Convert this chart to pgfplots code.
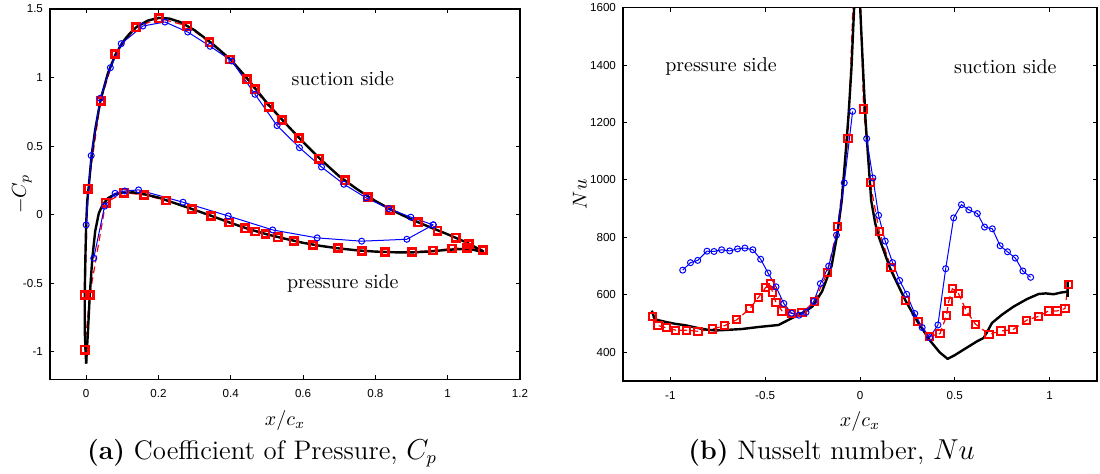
\documentclass[border=0pt]{standalone}
\usepackage{fontspec}
\usepackage{pgfplots}
\pgfplotsset{compat=1.18}
\newfontfamily\ticksf{Liberation Sans}

\pgfplotsset{mystyle/.style={
  scale only axis,
  axis line style={line width=0.7pt},
  tick align=inside, xtick pos=both, ytick pos=both,
  major tick length=2.2pt,
  every tick/.style={black, line width=0.5pt},
  ticklabel style={font=\ticksf\fontsize{5.8}{7}\selectfont},
  xticklabel style={yshift=-1.6pt},
  /pgf/number format/assume math mode=true,
  /pgf/number format/fixed,
  /pgf/number format/1000 sep={},
  every axis x label/.style={at={(axis description cs:0.5,0)}, anchor=center, yshift=-20.5pt, font=\fontsize{10}{12}\selectfont},
  every axis y label/.style={at={(axis description cs:0,0.5)}, anchor=center, rotate=90, font=\fontsize{10}{12}\selectfont},
  redser/.style={red, line width=0.6pt, dash pattern=on 3.5pt off 2pt, mark=square, mark size=1.8pt, mark options={solid, line width=1pt}},
  redfill/.style={redser, mark options={solid, line width=1.3pt}},
  blueser/.style={blue, line width=0.5pt, mark=o, mark size=1.5pt, mark options={solid, line width=0.5pt}},
  blackser/.style={black, line width=1.2pt, no marks, line join=round},
}}

\begin{document}
\begin{tikzpicture}
\useasboundingbox (0,0) rectangle (550pt,237pt);

% ---------------- (a) Cp ----------------
\begin{axis}[mystyle,
  at={(25pt,47.35pt)}, anchor=south west,
  width=235pt, height=185.15pt,
  xmin=-0.1, xmax=1.2, ymin=-1.2, ymax=1.5,
  xtick={0,0.2,...,1.2}, ytick={-1,-0.5,0,0.5,1,1.5},
  xlabel={$x/c_x$}, ylabel={$-C_p$},
  ylabel style={xshift=0pt, yshift=14pt},
]
% red suction
\addplot[redfill] coordinates {
(-0.004,-0.985) (-0.004,-0.585) (0.005,0.19) (0.040,0.829) (0.080,1.172) (0.138,1.366)
(0.202,1.432) (0.280,1.376) (0.341,1.257) (0.397,1.131) (0.445,0.987) (0.466,0.914)
(0.505,0.788) (0.542,0.691) (0.589,0.557) (0.644,0.409) (0.716,0.251) (0.779,0.130)
(0.841,0.035) (0.918,-0.055) (0.972,-0.116) (1.022,-0.167) (1.059,-0.213) (1.097,-0.257)};
% red pressure
\addplot[redfill] coordinates {
(-0.004,-0.985) (0.010,-0.585) (0.054,0.088) (0.104,0.161) (0.161,0.144) (0.221,0.103)
(0.292,0.042) (0.346,-0.009) (0.395,-0.057) (0.439,-0.099) (0.468,-0.123) (0.496,-0.142)
(0.530,-0.164) (0.574,-0.191) (0.628,-0.220) (0.697,-0.244) (0.763,-0.264) (0.827,-0.271)
(0.902,-0.271) (0.959,-0.261) (1.012,-0.247) (1.053,-0.242) (1.097,-0.257)};
% black suction
\addplot[blackser] coordinates {
(0.0,-1.085) (-0.004,-0.84) (-0.004,-0.585) (-0.002,-0.3) (0.0,-0.07) (0.003,0.1)
(0.007,0.2) (0.015,0.43) (0.025,0.62) (0.04,0.84) (0.06,1.03) (0.08,1.16) (0.1,1.255)
(0.12,1.32) (0.14,1.37) (0.17,1.415) (0.2,1.435) (0.23,1.43) (0.26,1.405) (0.3,1.345)
(0.35,1.245) (0.4,1.13) (0.45,0.98) (0.5,0.815) (0.55,0.67) (0.6,0.53) (0.65,0.4)
(0.7,0.28) (0.75,0.185) (0.8,0.1) (0.85,0.028) (0.9,-0.035) (0.95,-0.09) (1.0,-0.143)
(1.05,-0.2) (1.1,-0.27)};
% black pressure
\addplot[blackser] coordinates {
(0.0,-1.085) (0.005,-0.85) (0.01,-0.585) (0.017,-0.32) (0.025,-0.12) (0.035,0.01)
(0.045,0.07) (0.06,0.12) (0.08,0.15) (0.1,0.16) (0.13,0.163) (0.16,0.15) (0.2,0.125)
(0.25,0.08) (0.3,0.035) (0.35,-0.012) (0.4,-0.06) (0.45,-0.105) (0.5,-0.143)
(0.55,-0.175) (0.6,-0.205) (0.65,-0.228) (0.7,-0.246) (0.75,-0.26) (0.8,-0.269)
(0.85,-0.274) (0.9,-0.275) (0.95,-0.268) (1.0,-0.256) (1.04,-0.25) (1.07,-0.255) (1.1,-0.275)};
% blue suction
\addplot[blueser] coordinates {
(0,-0.074) (0.014,0.431) (0.039,0.849) (0.067,1.072) (0.097,1.247) (0.157,1.376)
(0.218,1.405) (0.281,1.332) (0.343,1.228) (0.403,1.121) (0.467,0.878) (0.528,0.650)
(0.590,0.489) (0.651,0.348) (0.713,0.222) (0.775,0.122) (0.837,0.045) (0.898,-0.018)
(0.960,-0.074)};
% blue pressure
\addplot[blueser] coordinates {
(0.021,-0.317) (0.051,0.062) (0.080,0.156) (0.107,0.173) (0.145,0.181) (0.268,0.091)
(0.393,-0.009) (0.516,-0.111) (0.639,-0.169) (0.762,-0.193) (0.887,-0.179) (0.960,-0.074)};
\node[font=\fontsize{10}{12}\selectfont] at (axis cs:0.71,0.99) {suction side};
\node[font=\fontsize{10}{12}\selectfont] at (axis cs:0.71,-0.5) {pressure side};
\end{axis}

% ---------------- (b) Nu ----------------
\begin{axis}[mystyle,
  at={(311.5pt,46.5pt)}, anchor=south west,
  width=237pt, height=186.65pt,
  xmin=-1.25, xmax=1.25, ymin=300, ymax=1600,
  xtick={-1,-0.5,0,0.5,1}, ytick={400,600,...,1600},
  xlabel={$x/c_x$}, ylabel={$Nu$},
  ylabel style={yshift=21.6pt},
]
% red
\addplot[redser] coordinates {
(-1.093,524) (-1.065,493) (-1.019,485) (-0.972,477) (-0.913,477) (-0.854,473)
(-0.776,481) (-0.713,493) (-0.650,513) (-0.581,552) (-0.537,590) (-0.498,625)
(-0.474,640) (-0.461,608) (-0.443,573) (-0.411,544) (-0.361,536) (-0.306,538)
(-0.241,576) (-0.172,679) (-0.117,839) (-0.063,1145) (-0.015,2000) (0.019,1247)
(0.054,990) (0.102,820) (0.163,694) (0.239,581) (0.306,507) (0.365,455) (0.422,465)
(0.457,529) (0.467,576) (0.487,621) (0.519,605) (0.561,544) (0.609,498) (0.680,463)
(0.744,474) (0.807,479) (0.880,512) (0.943,525) (0.994,544) (1.039,544) (1.081,552)
(1.098,637)};
% black
\addplot[blackser] coordinates {
(-1.098,545) (-1.095,539) (-1.085,520) (-1.072,513) (-1.02,505) (-0.975,499)
(-0.92,494) (-0.852,484) (-0.8,478) (-0.764,476) (-0.7,478) (-0.623,481) (-0.535,488)
(-0.43,495) (-0.4,505) (-0.359,519) (-0.289,542) (-0.25,560) (-0.2,612) (-0.15,700)
(-0.12,810) (-0.096,929) (-0.075,1100) (-0.06,1230) (-0.045,1390) (-0.031,1600)
(-0.015,1950) (0.001,1600) (0.015,1400) (0.03,1200) (0.045,1060) (0.059,929)
(0.08,850) (0.1,800) (0.16,690) (0.24,580) (0.3,510) (0.37,440) (0.42,400)
(0.462,377) (0.5,390) (0.546,409) (0.617,438) (0.652,450) (0.67,470) (0.696,502)
(0.749,531) (0.81,559) (0.88,585) (0.942,603) (0.98,605) (1.021,602) (1.06,608)
(1.095,611) (1.095,645) (1.095,593)};
% blue pressure side
\addplot[blueser] coordinates {
(-0.935,686) (-0.894,712) (-0.856,720) (-0.807,752) (-0.770,751) (-0.730,757)
(-0.687,753) (-0.646,760) (-0.607,763) (-0.565,757) (-0.524,724) (-0.485,676)
(-0.443,628) (-0.402,570) (-0.361,536) (-0.322,529) (-0.285,539) (-0.244,577)
(-0.209,639) (-0.165,700) (-0.124,808) (-0.083,990) (-0.039,1239)};
% blue suction side
\addplot[blueser] coordinates {
(0.035,1144) (0.068,1007) (0.098,877) (0.133,787) (0.172,712) (0.209,650) (0.246,602)
(0.289,535) (0.328,486) (0.367,451) (0.411,495) (0.452,691) (0.494,868) (0.535,914)
(0.574,896) (0.619,883) (0.657,836) (0.698,830) (0.739,771) (0.778,750) (0.819,728)
(0.859,683) (0.900,661)};
\node[font=\fontsize{10}{12}\selectfont] at (axis cs:-0.733,1395) {pressure side};
\node[font=\fontsize{10}{12}\selectfont] at (axis cs:0.767,1393) {suction side};
\end{axis}

\node[anchor=base, font=\fontsize{13.4}{16}\selectfont] at (131pt,7.35pt) {\textbf{(a)} Coefficient of Pressure, $C_p$};
\node[anchor=base, font=\fontsize{13.4}{16}\selectfont] at (415.8pt,7.35pt) {\textbf{(b)} Nusselt number, $Nu$};
\end{tikzpicture}
\end{document}
